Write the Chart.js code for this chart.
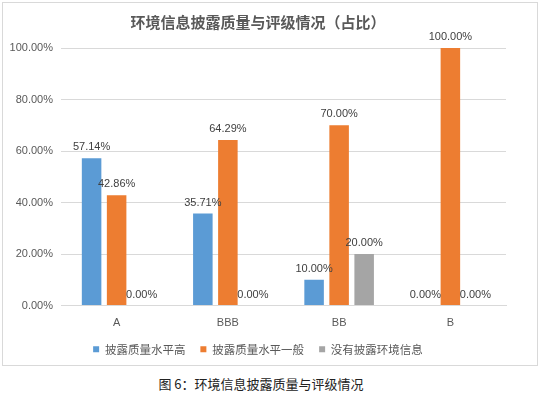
<!DOCTYPE html>
<html>
<head>
<meta charset="utf-8">
<script src="https://cdn.jsdelivr.net/npm/chart.js@4"></script>
<style>
  body { margin: 0; background: #fff; width: 541px; height: 397px; position: relative; font-family: "Liberation Sans", "Noto Sans CJK SC", sans-serif; }
  #box { position: absolute; left: 2px; top: 2px; width: 534px; height: 362px; border: 1px solid #d9d9d9; }
  #caption { position: absolute; left: 0; top: 374px; width: 522px; text-align: center; font-size: 13px; color: #222; font-family: "Noto Sans CJK SC", sans-serif; }
</style>
</head>
<body>
<div id="box"><canvas id="ratingChart" width="534" height="362"></canvas></div>
<div id="caption">图 6：环境信息披露质量与评级情况</div>
<script>
const categories = ['A', 'BBB', 'BB', 'B'];
const seriesNames = ['披露质量水平高', '披露质量水平一般', '没有披露环境信息'];
const highQuality = [57.14, 35.71, 10.00, 0];
const normalQuality = [42.86, 64.29, 70.00, 100.00];
const noDisclosure = [0, 0, 20.00, 0];
const yTicks = [0, 20, 40, 60, 80, 100];

const colors = ['#5B9BD5', '#ED7D31', '#A5A5A5'];
const fontFamily = '"Liberation Sans", "Noto Sans CJK SC", sans-serif';

// draw the percentage above every bar
const valueLabels = {
    id: 'valueLabels',
    afterDatasetsDraw(chart) {
        const ctx = chart.ctx;
        ctx.save();
        ctx.font = '11px ' + fontFamily;
        ctx.fillStyle = '#404040';
        ctx.textAlign = 'center';
        ctx.textBaseline = 'middle';
        chart.data.datasets.forEach((ds, i) => {
            chart.getDatasetMeta(i).data.forEach((bar, j) => {
                ctx.fillText(ds.data[j].toFixed(2) + '%', bar.x, bar.y - 11);
            });
        });
        ctx.restore();
    }
};

const data = {
    labels: categories,
    datasets: [highQuality, normalQuality, noDisclosure].map((values, i) => ({
        label: seriesNames[i],
        data: values,
        backgroundColor: colors[i],
        categoryPercentage: 0.675,
        barPercentage: 0.78,
    })),
};

new Chart(document.getElementById('ratingChart'), {
    type: 'bar',
    data: data,
    plugins: [valueLabels],
    options: {
        responsive: false,
        animation: false,
        layout: { padding: { left: 7, right: 31, top: 0, bottom: 0 } },
        plugins: {
            title: {
                display: true,
                text: '环境信息披露质量与评级情况（占比）',
                color: '#595959',
                font: { size: 15, weight: 'bold', family: '"Noto Sans CJK SC", sans-serif' },
                padding: { top: 10, bottom: 17 },
            },
            legend: {
                position: 'bottom',
                labels: {
                    boxWidth: 6,
                    boxHeight: 6,
                    padding: 15,
                    color: '#595959',
                    font: { size: 11.5, family: '"Noto Sans CJK SC", sans-serif' },
                },
            },
            tooltip: { enabled: false },
        },
        scales: {
            x: {
                grid: { display: false, drawTicks: false },
                border: { color: '#d9d9d9' },
                ticks: { color: '#595959', font: { size: 11, family: fontFamily }, padding: 11 },
                afterFit: (scale) => { scale.height = 23; },
            },
            y: {
                min: 0,
                max: 100,
                afterBuildTicks: (scale) => { scale.ticks = yTicks.map(v => ({ value: v })); },
                grid: { color: '#d9d9d9', drawTicks: false },
                border: { display: false },
                ticks: {
                    color: '#595959',
                    font: { size: 11, family: fontFamily },
                    padding: 8,
                    callback: (v) => v.toFixed(2) + '%',
                },
                afterFit: (scale) => { scale.width = 51; },
            },
        },
    },
});
</script>
</body>
</html>
